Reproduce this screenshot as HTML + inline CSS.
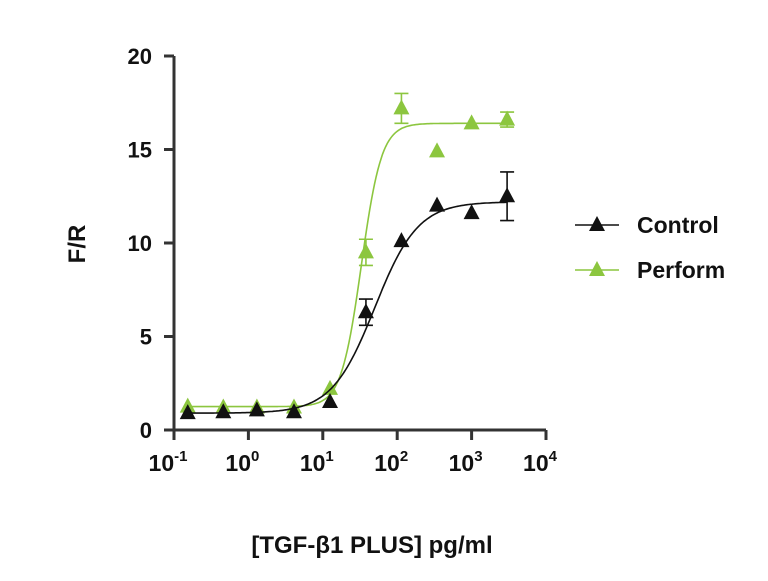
<!DOCTYPE html>
<html><head><meta charset="utf-8"><style>
body{margin:0;background:#fff;}
svg text{font-family:"Liberation Sans",sans-serif;font-weight:bold;fill:#111;}
</style></head><body>
<svg id="chart" width="768" height="576" viewBox="0 0 768 576"></svg>
<script>
const doses=[0.153,0.46,1.3,4.1,12.5,38,114,343,1000,3000];
const controlVals=[0.9,0.95,1.05,0.95,1.5,6.3,10.1,12.0,11.6,12.5];
const controlErr=[0,0,0,0,0,0.7,0,0,0,1.3];
const performVals=[1.25,1.2,1.2,1.2,2.2,9.5,17.2,14.9,16.4,16.6];
const performErr=[0,0,0,0,0,0.7,0.8,0,0,0.4];
const controlFit=[0.9,12.2,50,1.5];
const performFit=[1.25,16.4,33,3.2];
const yTicks=[0,5,10,15,20];
const xTickExps=[-1,0,1,2,3,4];
const NS="http://www.w3.org/2000/svg";
const svg=document.getElementById('chart');
const X0=174,X1=546,Y0=430,Y1=56;
const xs=v=>X0+(Math.log10(v)+1)/5*(X1-X0);
const ys=v=>Y0-v/20*(Y0-Y1);
function mk(t,a,p){const e=document.createElementNS(NS,t);for(const k in a)e.setAttribute(k,a[k]);(p||svg).appendChild(e);return e;}
const ax=mk('g',{});


mk('line',{x1:X0,y1:Y1,x2:X0,y2:Y0,stroke:'#333','stroke-width':3},ax);
mk('line',{x1:X0,y1:Y0,x2:X1,y2:Y0,stroke:'#333','stroke-width':3},ax);
yTicks.forEach(t=>{const y=ys(t);mk('line',{x1:X0-10,y1:y,x2:X0,y2:y,stroke:'#333','stroke-width':3},ax);
const tx=mk('text',{x:X0-22,y:y+8,'text-anchor':'end','font-size':22},ax);tx.textContent=t;

});
xTickExps.forEach(e=>{const x=xs(Math.pow(10,e));mk('line',{x1:x,y1:Y0,x2:x,y2:Y0+10,stroke:'#333','stroke-width':3},ax);
const tx=mk('text',{x:x-6,y:Y0+41,'text-anchor':'middle','font-size':23},ax);


tx.textContent='10';const s=mk('tspan',{dy:-10,'font-size':15},tx);s.textContent=String(e);});
const yt=mk('text',{x:85,y:244,'text-anchor':'middle','font-size':24,transform:'rotate(-90 85 244)'});yt.textContent='F/R';


const xt=mk('text',{x:372,y:553,'text-anchor':'middle','font-size':24});xt.textContent='[TGF-β1 PLUS] pg/ml';


function series(name,vals,err,fit,col){
 const g=mk('g',{});
 
 
 let d='';const a=Math.log10(doses[0]),b=Math.log10(doses[doses.length-1]);
 for(let i=0;i<=200;i++){const v=Math.pow(10,a+i/200*(b-a));
 const yv=fit[0]+(fit[1]-fit[0])/(1+Math.pow(fit[2]/v,fit[3]));d+=(i?'L':'M')+xs(v).toFixed(1)+' '+ys(yv).toFixed(1);}
 const p=mk('path',{d:d,fill:'none',stroke:col,'stroke-width':1.6},g);
 
 
 vals.forEach((v,i)=>{const x=xs(doses[i]),y=ys(v);
  if(err[i]>0){const e=mk('path',{d:`M${x} ${ys(v+err[i])}V${ys(v-err[i])}M${x-7} ${ys(v+err[i])}H${x+7}M${x-7} ${ys(v-err[i])}H${x+7}`,stroke:col,'stroke-width':1.6,fill:'none'},g);
  
  }
  const m=mk('polygon',{points:`${x},${y-9} ${x-8},${y+6} ${x+8},${y+6}`,fill:col},g);
  
  });
}
series('perform',performVals,performErr,performFit,'#8cc63f');
series('control',controlVals,controlErr,controlFit,'#111');
function leg(y,col,label){const g=mk('g',{});
 
 
 mk('line',{x1:575,y1:y,x2:619,y2:y,stroke:col,'stroke-width':1.6},g);
 mk('polygon',{points:`597,${y-9} 589,${y+6} 605,${y+6}`,fill:col},g);
 const t=mk('text',{x:637,y:y+8,'font-size':23},g);t.textContent=label;}
leg(225,'#111','Control');leg(270,'#8cc63f','Perform');
</script>
</body></html>
